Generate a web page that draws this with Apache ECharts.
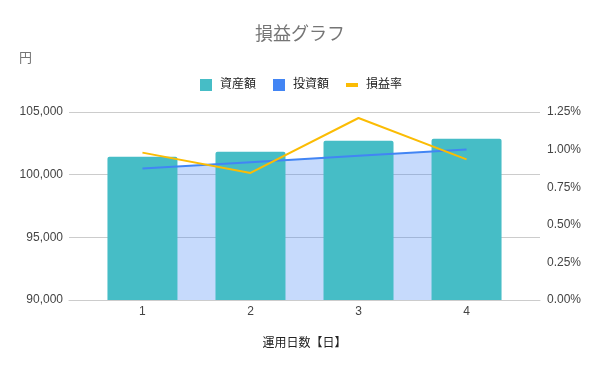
<!DOCTYPE html>
<html>
<head>
<meta charset="utf-8">
<script src="https://cdn.jsdelivr.net/npm/echarts@6/dist/echarts.min.js"></script>
<style>html,body{margin:0;padding:0;background:#fff}#c{width:600px;height:371px}</style>
</head>
<body>
<div id="c"></div>
<script>
var days = [1, 2, 3, 4];
var assets = [101430, 101830, 102700, 102870];
var invest = [100500, 101000, 101500, 102000];
var rate = [0.98, 0.845, 1.21, 0.935];
var leftTicks = [90000, 95000, 100000, 105000];
var rightTicks = [0, 0.25, 0.5, 0.75, 1.0, 1.25];

var FONT = '"Liberation Sans", Arial, "Noto Sans CJK JP", sans-serif';
function pairs(vals) { return days.map(function (d, i) { return [d, vals[i]]; }); }

var chart = echarts.init(document.getElementById('c'), null, { renderer: 'canvas' });
chart.setOption({
  animation: false,
  textStyle: { fontFamily: FONT },
  title: {
    text: '損益グラフ', left: 'center', top: 21,
    textStyle: { fontSize: 18, fontWeight: 'normal', color: '#757575', fontFamily: FONT }
  },
  graphic: [{
    type: 'text', left: 19, top: 52,
    style: { text: '円', fontSize: 13, fill: '#757575', fontFamily: FONT }
  }],
  legend: {
    left: 200, top: 79, padding: 0, itemWidth: 12, itemHeight: 12, itemGap: 17,
    textStyle: { fontSize: 12, color: '#222', fontFamily: FONT, padding: [0, 0, 0, 3] },
    data: [
      { name: '資産額', icon: 'rect', itemStyle: { color: '#46bdc6' } },
      { name: '投資額', icon: 'rect', itemStyle: { color: '#4285f4', opacity: 1 } },
      { name: '損益率', icon: 'path://M0,0 L0,0 Z M0,4 L12,4 L12,8 L0,8 Z M0,12 L0,12 Z', itemStyle: { color: '#fbbc04' } }
    ]
  },
  grid: { left: 69, right: 60, top: 112, bottom: 71 },
  xAxis: {
    type: 'value', min: 0.32, max: 4.68,
    name: '運用日数【日】', nameLocation: 'middle', nameGap: 38,
    nameTextStyle: { fontSize: 12, color: '#222', fontFamily: FONT },
    axisLine: { show: true, lineStyle: { color: '#cccccc' } },
    axisTick: { show: false },
    splitLine: { show: false },
    axisLabel: { customValues: days, margin: 6, fontSize: 12, color: '#444', fontFamily: FONT }
  },
  yAxis: [{
    type: 'value', min: 90000, max: 105000, interval: 5000,
    axisLine: { show: false }, axisTick: { show: false },
    splitLine: { lineStyle: { color: '#cccccc' } },
    axisLabel: { margin: 6, fontSize: 12, color: '#444', fontFamily: FONT,
      formatter: function (v) { return v.toLocaleString('en-US'); } }
  }, {
    type: 'value', min: 0, max: 1.25, interval: 0.25,
    axisLine: { show: false }, axisTick: { show: false },
    splitLine: { show: false },
    axisLabel: { margin: 7, fontSize: 12, color: '#444', fontFamily: FONT,
      formatter: function (v) { return v.toFixed(2) + '%'; } }
  }],
  series: [{
    name: '投資額', type: 'line', z: 1, yAxisIndex: 0,
    data: pairs(invest), symbol: 'none',
    itemStyle: { color: '#4285f4' },
    lineStyle: { width: 0, opacity: 0 },
    areaStyle: { color: '#4285f4', opacity: 0.3 }
  }, {
    name: '資産額', type: 'bar', z: 2, yAxisIndex: 0,
    data: pairs(assets), barWidth: 70,
    itemStyle: { color: '#46bdc6', borderRadius: [2, 2, 0, 0] }
  }, {
    name: '投資額', type: 'line', z: 3, yAxisIndex: 0,
    data: pairs(invest), symbol: 'none',
    itemStyle: { color: '#4285f4' },
    lineStyle: { width: 2, color: '#4285f4' }
  }, {
    name: '損益率', type: 'line', z: 4, yAxisIndex: 1,
    data: pairs(rate), symbol: 'none',
    itemStyle: { color: '#fbbc04' },
    lineStyle: { width: 2, color: '#fbbc04' }
  }]
});
</script>
</body>
</html>
